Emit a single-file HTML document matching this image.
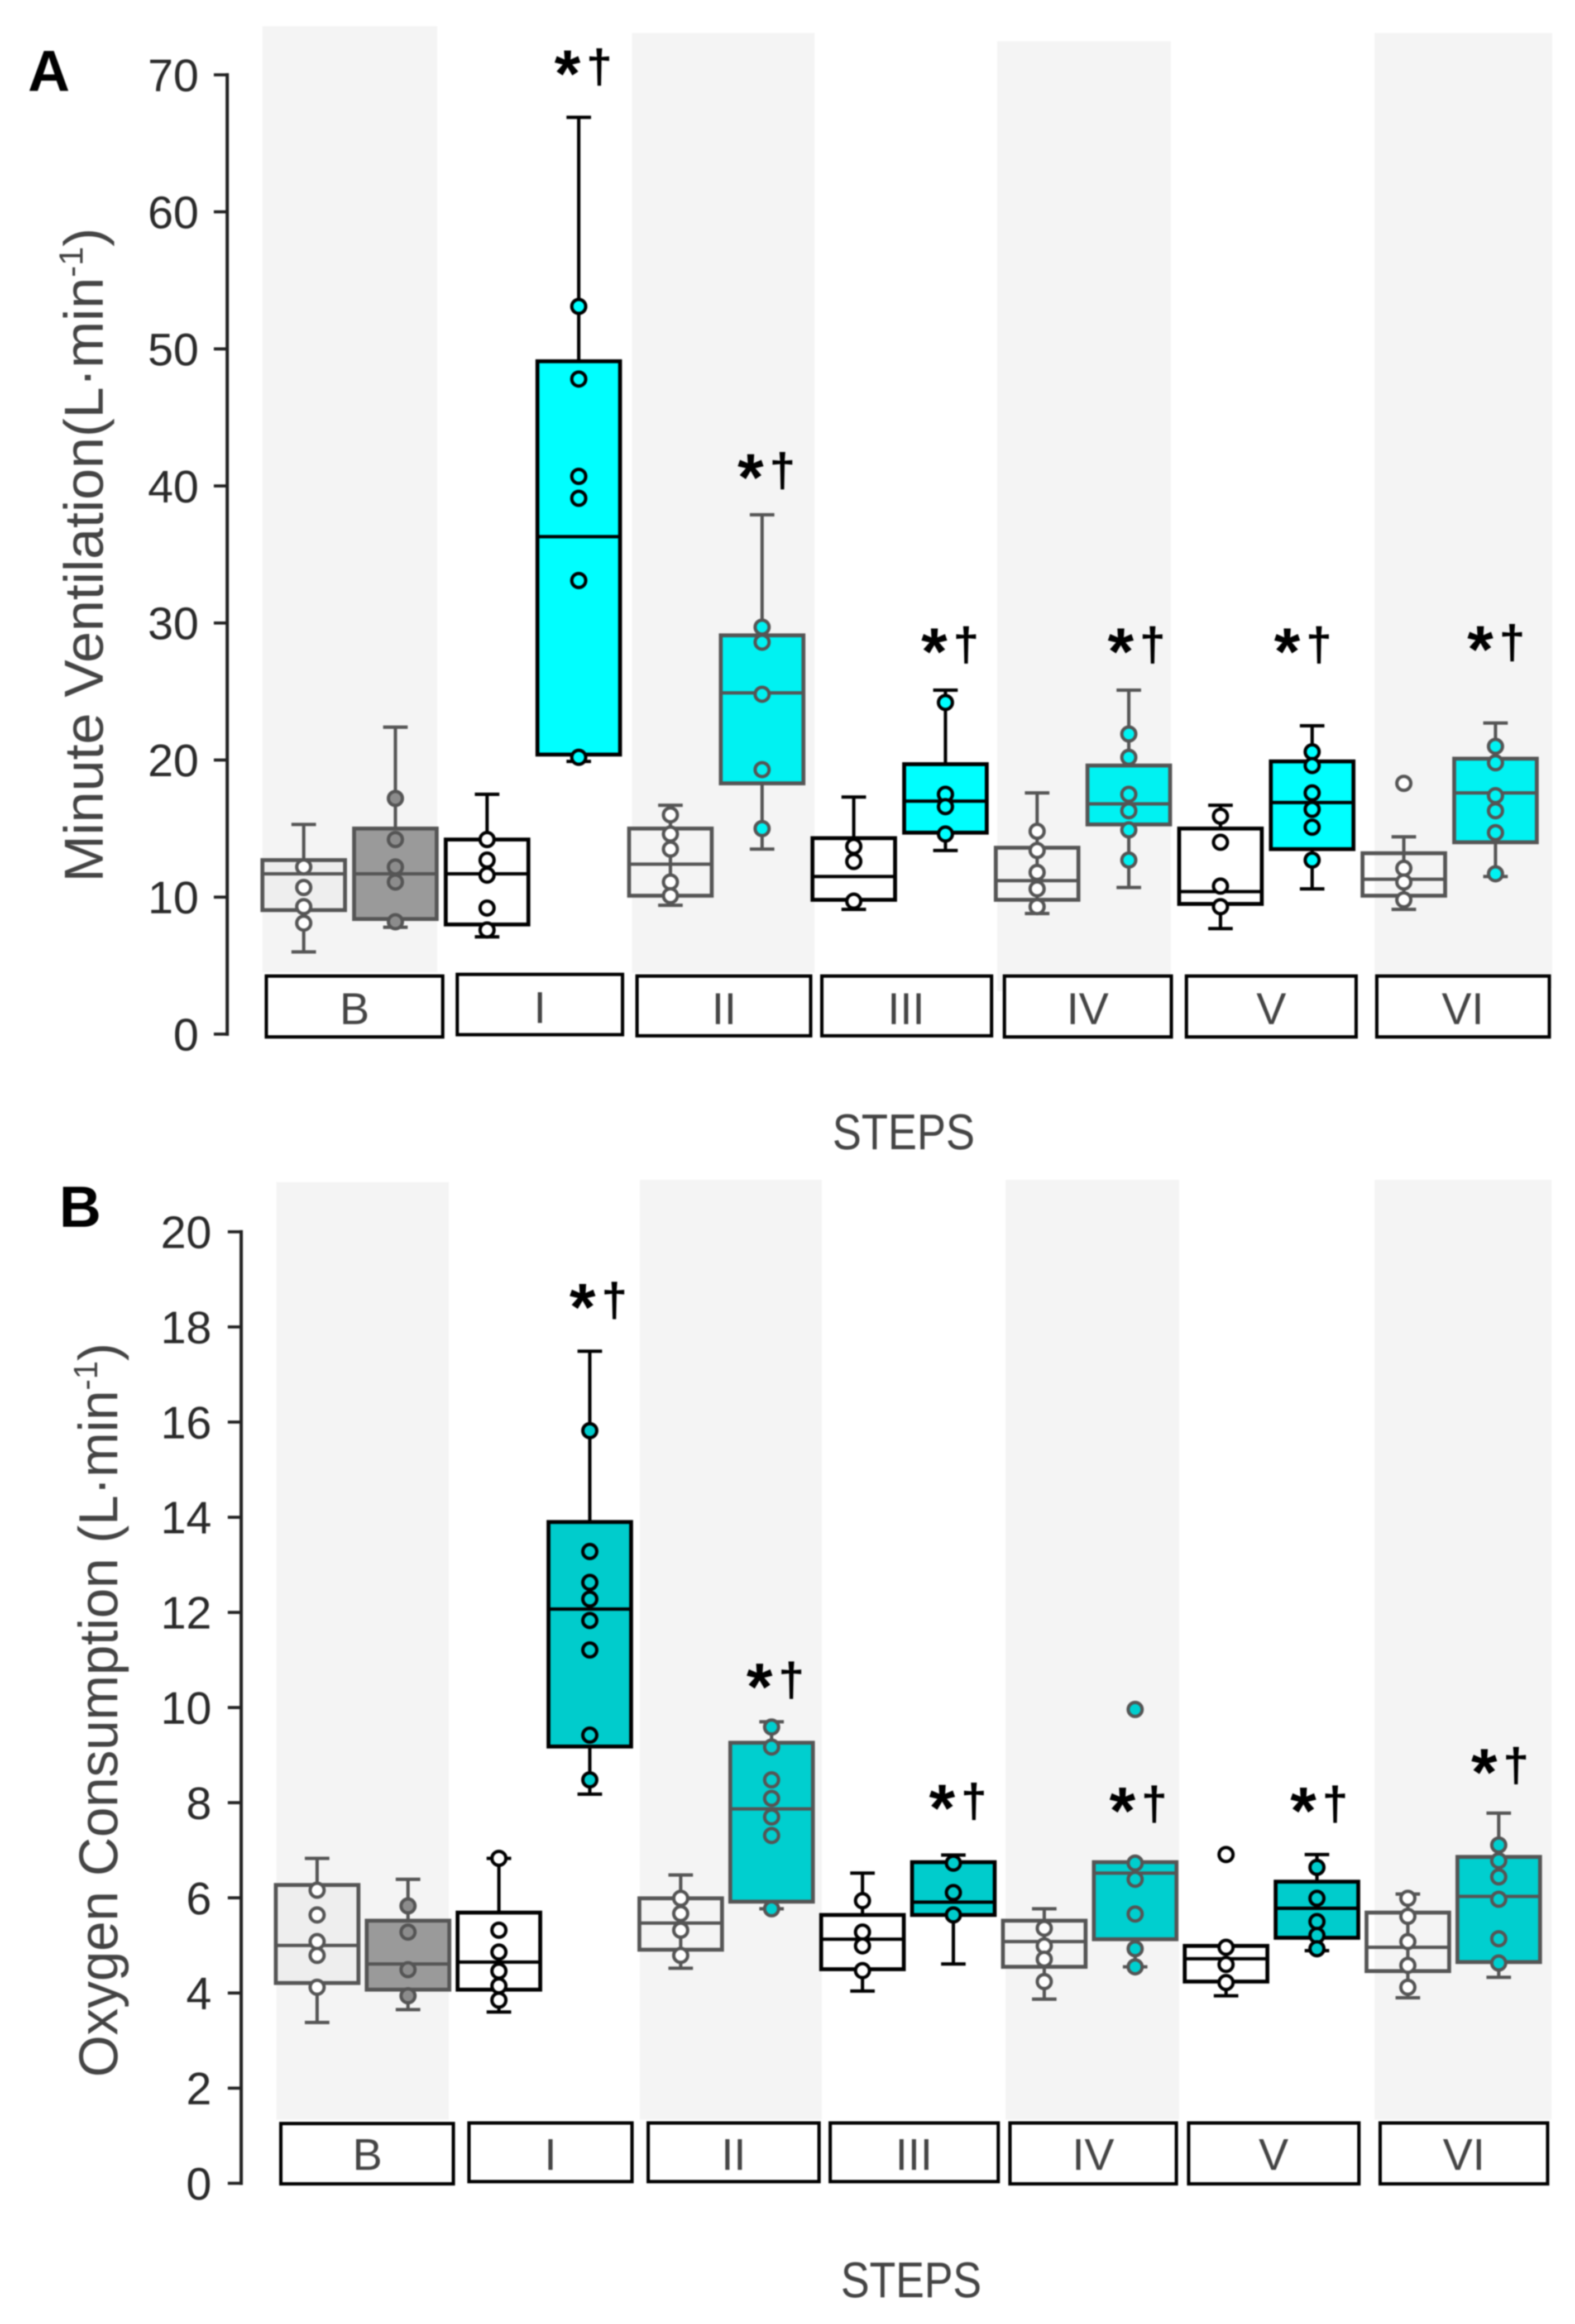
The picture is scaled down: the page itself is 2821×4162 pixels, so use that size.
<!DOCTYPE html>
<html>
<head>
<meta charset="utf-8">
<title>Minute Ventilation and Oxygen Consumption by Step</title>
<style>
html,body{margin:0;padding:0;background:#fff;overflow:hidden;}
svg{display:block;font-family:"Liberation Sans",sans-serif;filter:blur(1px);}
.band{fill:#f4f4f4;stroke:none;}
.strip{fill:#fff;stroke:#000;stroke-width:6;}
.strip-t{font-size:80px;fill:#444;text-anchor:middle;}
.tick-t{font-size:82px;fill:#2a2a2a;text-anchor:end;}
.title{font-size:98px;fill:#444;}
.steps{font-size:90px;fill:#444;}
.letter{font-size:104px;font-weight:bold;fill:#000;}
.star{font-size:120px;font-weight:bold;fill:#000;}
.dag{font-size:84px;font-weight:bold;fill:#000;}
</style>
</head>
<body>
<svg id="figure" xmlns="http://www.w3.org/2000/svg" width="2821" height="4162" viewBox="0 0 2821 4162">
  <rect x="0" y="0" width="2821" height="4162" fill="#fff"/>

  <g id="panel-a">
    <rect class="band" x="470" y="47" width="313" height="1694"/>
    <rect class="band" x="1132" y="59" width="327" height="1683"/>
    <rect class="band" x="1786" y="74" width="311" height="1701"/>
    <rect class="band" x="2462" y="59" width="318" height="1711"/>
    <g>
      <rect class="strip" x="477" y="1748" width="316" height="109"/>
      <text class="strip-t" x="635" y="1834">B</text>
      <rect class="strip" x="819" y="1745" width="296" height="108"/>
      <text class="strip-t" x="967" y="1832">I</text>
      <rect class="strip" x="1141" y="1748" width="311" height="107"/>
      <text class="strip-t" x="1297" y="1834">II</text>
      <rect class="strip" x="1472" y="1748" width="304" height="107"/>
      <text class="strip-t" x="1623" y="1834">III</text>
      <rect class="strip" x="1799" y="1748" width="299" height="109"/>
      <text class="strip-t" x="1948" y="1834">IV</text>
      <rect class="strip" x="2125" y="1748" width="304" height="109"/>
      <text class="strip-t" x="2277" y="1834">V</text>
      <rect class="strip" x="2466" y="1748" width="309" height="109"/>
      <text class="strip-t" x="2620" y="1834">VI</text>
    </g>
    <g id="axis-a"></g>
    <g id="boxes-a"></g>
    <text class="letter" x="50" y="163">A</text>
    <text class="title" transform="translate(184,1580) rotate(-90)" textLength="1172" lengthAdjust="spacingAndGlyphs">Minute Ventilation(L·min<tspan font-size="60" dy="-36">-1</tspan><tspan dy="36">)</tspan></text>
    <text class="steps" x="1491" y="2058" textLength="255" lengthAdjust="spacingAndGlyphs">STEPS</text>
    <g>
      <text><tspan class="star" x="993" y="173">*</tspan><tspan class="dag" x="1050" y="148">†</tspan></text>
      <text><tspan class="star" x="1321" y="896">*</tspan><tspan class="dag" x="1378" y="871">†</tspan></text>
      <text><tspan class="star" x="1650" y="1208">*</tspan><tspan class="dag" x="1707" y="1183">†</tspan></text>
      <text><tspan class="star" x="1984" y="1208">*</tspan><tspan class="dag" x="2041" y="1183">†</tspan></text>
      <text><tspan class="star" x="2282" y="1208">*</tspan><tspan class="dag" x="2339" y="1183">†</tspan></text>
      <text><tspan class="star" x="2628" y="1204">*</tspan><tspan class="dag" x="2685" y="1179">†</tspan></text>
    </g>
  </g>

  <g id="panel-b">
    <rect class="band" x="495" y="2117" width="309" height="1679"/>
    <rect class="band" x="1146" y="2113" width="326" height="1683"/>
    <rect class="band" x="1801" y="2113" width="311" height="1683"/>
    <rect class="band" x="2462" y="2113" width="317" height="1683"/>
    <g>
      <rect class="strip" x="503" y="3803" width="309" height="108"/>
      <text class="strip-t" x="658" y="3886">B</text>
      <rect class="strip" x="840" y="3802" width="292" height="105"/>
      <text class="strip-t" x="986" y="3886">I</text>
      <rect class="strip" x="1161" y="3802" width="306" height="105"/>
      <text class="strip-t" x="1314" y="3886">II</text>
      <rect class="strip" x="1487" y="3802" width="301" height="105"/>
      <text class="strip-t" x="1637" y="3886">III</text>
      <rect class="strip" x="1809" y="3802" width="298" height="109"/>
      <text class="strip-t" x="1958" y="3886">IV</text>
      <rect class="strip" x="2129" y="3802" width="305" height="109"/>
      <text class="strip-t" x="2281" y="3886">V</text>
      <rect class="strip" x="2472" y="3802" width="300" height="109"/>
      <text class="strip-t" x="2622" y="3886">VI</text>
    </g>
    <g id="axis-b"></g>
    <g id="boxes-b"></g>
    <text class="letter" x="106" y="2197">B</text>
    <text class="title" transform="translate(210,3720) rotate(-90)" textLength="1315" lengthAdjust="spacingAndGlyphs">Oxygen Consumption (L·min<tspan font-size="60" dy="-36">-1</tspan><tspan dy="36">)</tspan></text>
    <text class="steps" x="1506" y="4114" textLength="252" lengthAdjust="spacingAndGlyphs">STEPS</text>
    <g>
      <text><tspan class="star" x="1020" y="2382">*</tspan><tspan class="dag" x="1077" y="2357">†</tspan></text>
      <text><tspan class="star" x="1337" y="3062">*</tspan><tspan class="dag" x="1394" y="3037">†</tspan></text>
      <text><tspan class="star" x="1664" y="3279">*</tspan><tspan class="dag" x="1721" y="3254">†</tspan></text>
      <text><tspan class="star" x="1987" y="3284">*</tspan><tspan class="dag" x="2044" y="3259">†</tspan></text>
      <text><tspan class="star" x="2311" y="3284">*</tspan><tspan class="dag" x="2368" y="3259">†</tspan></text>
      <text><tspan class="star" x="2635" y="3215">*</tspan><tspan class="dag" x="2692" y="3190">†</tspan></text>
    </g>
  </g>
</svg>

<script>
const categories = ['B-a','B-b','I-a','I-b','II-a','II-b','III-a','III-b','IV-a','IV-b','V-a','V-b','VI-a','VI-b'];

const ticksA = [0,10,20,30,40,50,60,70];
const whiskerLowA = [6.0,7.8,7.1,19.9,9.4,13.5,9.1,13.4,8.8,10.7,7.7,10.6,9.1,11.5];
const q1A = [9.05,8.4,8.0,20.4,10.1,18.3,9.8,14.7,9.8,15.3,9.5,13.5,10.1,14.0];
const medianA = [11.7,11.7,11.7,36.3,12.4,24.9,11.5,17.0,11.2,16.8,10.4,16.9,11.3,17.6];
const q3A = [12.7,15.0,14.2,49.1,15.0,29.1,14.3,19.7,13.6,19.6,15.0,19.9,13.2,20.1];
const whiskerHighA = [15.3,22.4,17.5,66.9,16.7,37.9,17.3,25.1,17.6,25.1,16.7,22.5,14.4,22.7];
const pointsA = [
  [12.2,10.7,9.3,8.1],
  [17.2,14.2,12.2,11.1,8.2],
  [14.2,12.7,11.6,9.2,7.6],
  [53.1,47.8,40.7,39.1,33.1,20.2],
  [16.0,14.6,13.5,11.1,10.1],
  [29.7,28.6,24.8,19.3,15.0],
  [13.7,12.6,9.7],
  [24.2,17.5,16.6,14.6],
  [14.8,13.4,11.8,10.6,9.3],
  [21.9,20.2,17.5,16.3,14.9,12.7],
  [15.9,14.0,10.8,9.3],
  [20.6,19.6,17.6,16.4,15.1,12.7],
  [18.3,12.1,11.1,9.8],
  [21.0,19.8,17.4,16.3,14.7,11.7]
];

const ticksB = [0,2,4,6,8,10,12,14,16,18,20];
const whiskerLowB = [3.38,3.65,3.6,8.18,4.52,5.77,4.04,4.61,3.87,4.55,3.94,4.89,3.9,4.33];
const q1B = [4.21,4.07,4.07,9.18,4.91,5.92,4.5,5.64,4.55,5.13,4.24,5.16,4.46,4.65];
const medianB = [5.0,4.61,4.65,12.07,5.47,7.87,5.13,5.91,5.08,6.52,4.72,5.78,4.96,6.03];
const q3B = [6.27,5.52,5.69,13.9,5.99,9.26,5.64,6.75,5.52,6.75,4.99,6.34,5.69,6.86];
const whiskerHighB = [6.83,6.39,6.83,17.49,6.48,9.7,6.52,6.9,5.77,6.75,4.99,6.91,6.08,7.78];
const pointsB = [
  [6.16,5.64,5.08,4.79,4.12],
  [5.83,5.28,4.49,3.94],
  [6.83,5.32,4.86,4.46,4.15,3.85],
  [15.82,13.28,12.63,12.28,11.83,11.21,9.42,8.48],
  [5.99,5.67,5.32,4.79],
  [9.59,9.17,8.48,8.09,7.7,7.31,5.77],
  [5.94,5.28,4.99,4.47],
  [6.73,6.11,5.64],
  [5.36,4.99,4.71,4.24],
  [9.96,6.73,6.39,5.66,4.93,4.55],
  [6.91,4.96,4.6,4.22],
  [6.64,5.99,5.5,5.21,4.93],
  [5.99,5.61,5.08,4.58,4.12],
  [7.11,6.78,6.44,5.97,5.14,4.63]
];

const SVG_NS = 'http://www.w3.org/2000/svg';
function make(parent, tag, attrs) {
  const el = document.createElementNS(SVG_NS, tag);
  for (const k in attrs) el.setAttribute(k, attrs[k]);
  parent.appendChild(el);
  return el;
}

// Box appearance per position in a panel (not data).
function boxLook(i, cyan, cyanSoft) {
  const gray = '#555';
  if (i === 0) return {fill:'#eeeeee', stroke:gray, dot:'#ffffff'};
  if (i === 1) return {fill:'#9a9a9a', stroke:gray, dot:'#8c8c8c'};
  const steppedGray = i % 4 === 0 || i % 4 === 1;
  if (i % 2 === 0) return {fill: steppedGray ? 'none' : '#ffffff', stroke: steppedGray ? gray : '#000', dot:'#ffffff'};
  return {fill: steppedGray ? cyanSoft : cyan, stroke: steppedGray ? gray : '#000', dot: steppedGray ? cyanSoft : cyan};
}

function drawAxis(id, ticks, yScale, axisX, tickX, labelX) {
  const g = document.getElementById(id);
  const spine = make(g, 'line', {x1:axisX, x2:axisX, y1:yScale(ticks[ticks.length-1]), y2:yScale(ticks[0]), stroke:'#222', 'stroke-width':6, 'stroke-linecap':'square'});
  
  
  ticks.forEach(function (t) {
    const mark = make(g, 'line', {x1:tickX, x2:axisX, y1:yScale(t), y2:yScale(t), stroke:'#222', 'stroke-width':5.5});
    
    
    const lab = make(g, 'text', {x:labelX, y:yScale(t)+29, class:'tick-t'});
    
    
    lab.textContent = t;
  });
}

function drawBoxes(id, xScale, yScale, low, q1, med, q3, high, pts, cyan, cyanSoft) {
  const root = document.getElementById(id);
  const halfBox = 74, halfCap = 22, sw = 6;
  categories.forEach(function (cat, i) {
    const look = boxLook(i, cyan, cyanSoft);
    const cx = xScale(i);
    const g = make(root, 'g', {});
    
    
    const whisker = make(g, 'line', {x1:cx, x2:cx, y1:yScale(high[i]), y2:yScale(low[i]), stroke:look.stroke, 'stroke-width':sw});
    
    
    [high[i], low[i]].forEach(function (v) {
      const cap = make(g, 'line', {x1:cx-halfCap, x2:cx+halfCap, y1:yScale(v), y2:yScale(v), stroke:look.stroke, 'stroke-width':sw});
      
      
    });
    const box = make(g, 'rect', {x:cx-halfBox, y:yScale(q3[i]), width:halfBox*2, height:yScale(q1[i])-yScale(q3[i]), fill:look.fill === 'none' ? 'transparent' : look.fill, stroke:look.stroke, 'stroke-width':sw+1});
    
    
    const medianLine = make(g, 'line', {x1:cx-halfBox, x2:cx+halfBox, y1:yScale(med[i]), y2:yScale(med[i]), stroke:look.stroke, 'stroke-width':sw});
    
    
    pts[i].forEach(function (v) {
      const dot = make(g, 'circle', {cx:cx, cy:yScale(v), r:12.5, fill:look.dot, stroke:look.stroke, 'stroke-width':6});
      
      
    });
  });
}

function xA(i) { return 544 + 164.2 * i; }
function yA(v) { return 1852 - v * (1852 - 134) / 70; }
function xB(i) { return 568 + 162.8 * i; }
function yB(v) { return 3910 - v * (3910 - 2206) / 20; }

drawAxis('axis-a', ticksA, yA, 407, 383, 356);
drawAxis('axis-b', ticksB, yB, 432, 408, 379);
drawBoxes('boxes-a', xA, yA, whiskerLowA, q1A, medianA, q3A, whiskerHighA, pointsA, '#00ffff', '#00f2f2');
drawBoxes('boxes-b', xB, yB, whiskerLowB, q1B, medianB, q3B, whiskerHighB, pointsB, '#00cccc', '#00cfcf');
</script>
</body>
</html>
